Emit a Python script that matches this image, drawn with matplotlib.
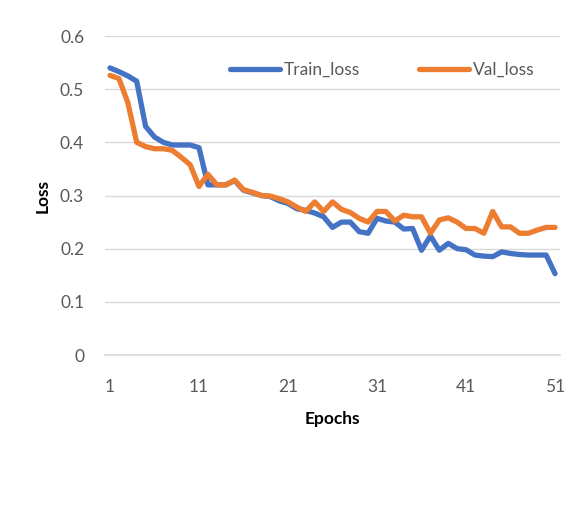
import numpy as np
import matplotlib.pyplot as plt

plt.rcParams['font.family'] = ['Lato', 'DejaVu Sans']

epochs = np.arange(1, 52)
train_loss = [0.540, 0.533, 0.525, 0.515, 0.430, 0.410, 0.400, 0.395, 0.395, 0.395,
              0.390, 0.320, 0.320, 0.320, 0.328, 0.310, 0.305, 0.300, 0.298, 0.290,
              0.285, 0.275, 0.272, 0.267, 0.260, 0.240, 0.250, 0.250, 0.232, 0.229,
              0.257, 0.252, 0.250, 0.237, 0.238, 0.197, 0.224, 0.197, 0.210, 0.200,
              0.198, 0.188, 0.186, 0.185, 0.194, 0.191, 0.189, 0.188, 0.188, 0.188,
              0.153]
val_loss = [0.526, 0.520, 0.475, 0.400, 0.392, 0.388, 0.388, 0.385, 0.372, 0.358,
            0.317, 0.340, 0.320, 0.320, 0.329, 0.311, 0.306, 0.300, 0.299, 0.294,
            0.288, 0.278, 0.270, 0.288, 0.270, 0.288, 0.274, 0.268, 0.257, 0.250,
            0.270, 0.270, 0.252, 0.263, 0.260, 0.260, 0.229, 0.254, 0.258, 0.250,
            0.238, 0.238, 0.229, 0.270, 0.241, 0.241, 0.229, 0.229, 0.235, 0.240,
            0.240]
xticks = [1, 11, 21, 31, 41, 51]
yticks = [0, 0.1, 0.2, 0.3, 0.4, 0.5, 0.6]

fig = plt.figure(figsize=(5.85, 5.25), dpi=100)
ax = fig.add_axes([0.1795, 0.3238, 0.7778, 0.6076])

ax.plot(epochs, train_loss, color='#4472C4', lw=3.8, label='Train_loss',
        solid_capstyle='round', solid_joinstyle='round', zorder=3)
ax.plot(epochs, val_loss, color='#ED7D31', lw=3.8, label='Val_loss',
        solid_capstyle='round', solid_joinstyle='round', zorder=4)

ax.set_xlim(0.44, 51.56)
ax.set_ylim(0, 0.6)
ax.set_xticks(xticks)
ax.set_xticklabels([str(t) for t in xticks])
ax.set_yticks(yticks)
ax.set_yticklabels(['0', '0.1', '0.2', '0.3', '0.4', '0.5', '0.6'])
ax.yaxis.grid(True, color='#d9d9d9', lw=1.0, zorder=0)
ax.axhline(0, color='#d9d9d9', lw=1.2, clip_on=False, zorder=1)
ax.set_axisbelow(True)
for s in ax.spines.values():
    s.set_visible(False)
ax.tick_params(length=0, colors='#595959', labelsize=12.5)
ax.tick_params(axis='y', pad=15)
ax.tick_params(axis='x', pad=17)

ax.set_xlabel('Epochs', fontsize=12.5, fontweight='bold', labelpad=12)
ax.set_ylabel('Loss', fontsize=12.5, fontweight='bold', labelpad=7)

ax.legend(loc='center', bbox_to_anchor=(0.653, 0.8667), bbox_transform=fig.transFigure,
          ncol=2, frameon=False, fontsize=12.5, handlelength=2.9, columnspacing=3.4,
          handletextpad=0.2, labelcolor='#595959')

fig.savefig('out.png', dpi=100)
